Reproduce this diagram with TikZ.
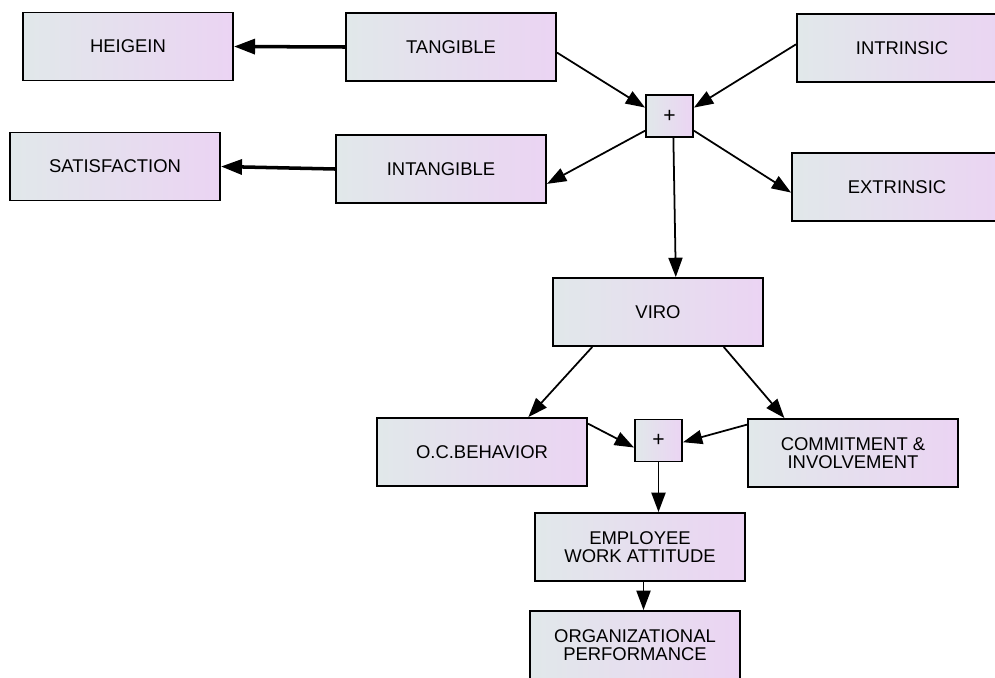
\documentclass[tikz,border=0pt]{standalone}
\usepackage{fontspec}
\setmainfont{Liberation Sans}
\usetikzlibrary{arrows.meta}

\definecolor{boxleft}{HTML}{E1E8EA}
\definecolor{boxright}{HTML}{EBD4F3}

\tikzstyle{box} = [draw, line width=1.1pt, left color=boxleft, right color=boxright,
  minimum width=4.2cm, minimum height=1.36cm, align=center,
  font=\fontsize{10.5}{10.3}\selectfont]
\tikzstyle{plus} = [box, minimum width=0.94cm, minimum height=0.84cm,
  font=\fontsize{12}{12}\selectfont]
\tikzstyle{link} = [line width=1pt, -{Triangle[length=11pt,width=8pt]}]
\tikzstyle{heavy} = [line width=2pt, -{Triangle[length=12pt,width=8.5pt]}]

\begin{document}
\begin{tikzpicture}[x=0.02cm, y=-0.02cm]
  \clip (0,0) rectangle (995,677);
  \node (heig) at (128,46.5) [box] {HEIGEIN};
  \node (tang) at (451,47) [box] {TANGIBLE};
  \node (intr) at (902,48) [box] {INTRINSIC};
  \node (p1) at (669.5,116) [plus] {+};
  \node (sat) at (115,166.5) [box] {SATISFACTION};
  \node (intg) at (441,169) [box] {INTANGIBLE};
  \node (extr) at (897,187) [box] {EXTRINSIC};
  \node (viro) at (658,312) [box] {VIRO};
  \node (ocb) at (482,452) [box] {O.C.BEHAVIOR};
  \node (p2) at (658.5,440.5) [plus] {+};
  \node (comm) at (853,453) [box] {COMMITMENT \&\\INVOLVEMENT};
  \node (emp) at (640,547) [box] {EMPLOYEE\\WORK ATTITUDE};
  \node (org) at (635,645) [box] {ORGANIZATIONAL\\PERFORMANCE};

  \draw [heavy] (tang.west) to (heig.east);
  \draw [heavy] (intg.west) to (sat.east);
  \draw [link] (tang.-3) to (p1.161);
  \draw [link] (intr.178) to (p1.19);
  \draw [link] (p1.-149) to (intg.-8);
  \draw [link] (p1.-31) to (extr.-177);
  \draw [link] (p1.-80) to (viro.63);
  \draw [link] (viro.-152) to (ocb.37);
  \draw [link] (viro.-28) to (comm.153);
  \draw [link] (ocb.15) to (p2.-164);
  \draw [link] (comm.165) to (p2.-4);
  \draw [link] (p2.south) to (p2.south |- emp.north);
  \draw [link] ([xshift=2pt]emp.south) to ([xshift=2pt]emp.south |- org.north);
\end{tikzpicture}
\end{document}
